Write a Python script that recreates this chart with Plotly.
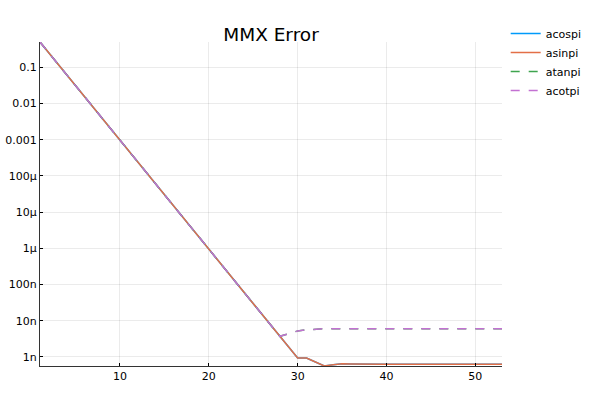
import plotly.graph_objects as go
import math

x_vals = list(range(1, 54))

# acospi / asinpi (solid)
err_sin = [0.5, 0.25, 0.125, 0.0625, 0.0313, 0.0156, 0.0078, 0.0039, 0.00195, 9.8e-4,
           4.9e-4, 2.44e-4, 1.22e-4, 6.1e-5, 3.05e-5, 1.53e-5, 7.6e-6, 3.8e-6, 1.9e-6, 9.5e-7,
           4.8e-7, 2.4e-7, 1.2e-7, 6.0e-8, 3.0e-8, 1.5e-8, 7.5e-9, 3.7e-9, 1.86e-9, 9.3e-10,
           9.3e-10, 7.4e-10, 5.6e-10, 6.1e-10, 6.5e-10, 6.4e-10, 6.3e-10, 6.3e-10, 6.3e-10, 6.3e-10,
           6.3e-10, 6.3e-10, 6.3e-10, 6.3e-10, 6.3e-10, 6.3e-10, 6.3e-10, 6.3e-10, 6.3e-10, 6.3e-10,
           6.3e-10, 6.3e-10, 6.3e-10]
acospi = err_sin
asinpi = err_sin

# atanpi / acotpi (dashed)
err_tan = [0.5, 0.25, 0.125, 0.0625, 0.0313, 0.0156, 0.0078, 0.0039, 0.00195, 9.8e-4,
           4.9e-4, 2.44e-4, 1.22e-4, 6.1e-5, 3.05e-5, 1.53e-5, 7.6e-6, 3.8e-6, 1.9e-6, 9.5e-7,
           4.8e-7, 2.4e-7, 1.2e-7, 6.0e-8, 3.0e-8, 1.5e-8, 7.5e-9, 3.7e-9, 4.4e-9, 5.2e-9,
           5.6e-9, 5.9e-9, 6.0e-9, 6.0e-9, 6.0e-9, 6.0e-9, 6.0e-9, 6.0e-9, 6.0e-9, 6.0e-9,
           6.0e-9, 6.0e-9, 6.0e-9, 6.0e-9, 6.0e-9, 6.0e-9, 6.0e-9, 6.0e-9, 6.0e-9, 6.0e-9,
           6.0e-9, 6.0e-9, 6.0e-9]
atanpi = err_tan
acotpi = err_tan

series_names = ["acospi", "asinpi", "atanpi", "acotpi"]
series_data = [acospi, asinpi, atanpi, acotpi]
colors = ["#009AFA", "#E36F47", "#3EA44E", "#C371D2"]
dashes = ["solid", "solid", "dash", "dash"]

y_tickvals = [1e-9, 1e-8, 1e-7, 1e-6, 1e-5, 1e-4, 1e-3, 1e-2, 1e-1]
y_ticktext = ["1n", "10n", "100n", "1μ", "10μ", "100μ", "0.001", "0.01", "0.1"]
x_tickvals = [10, 20, 30, 40, 50]

FONT = "DejaVu Sans"

fig = go.Figure()
for name, data, c, d in zip(series_names, series_data, colors, dashes):
    fig.add_trace(go.Scatter(x=x_vals, y=data, mode="lines", name=name,
                             line=dict(color=c, width=1.5, dash=d)))

all_y = [v for s in series_data for v in s]
ymin, ymax = min(all_y), max(all_y)

fig.update_layout(
    width=600, height=400,
    margin=dict(l=40, r=98, t=42, b=34, autoexpand=False),
    paper_bgcolor="white", plot_bgcolor="white",
    font=dict(family=FONT, size=11, color="black"),
    title=dict(text="MMX Error", x=(40 + 231) / 600, xanchor="center",
               y=1 - 35 / 400, yanchor="middle",
               font=dict(family=FONT, size=18.5, color="black")),
    legend=dict(x=1.008, y=1.071, xanchor="left", yanchor="top",
                bgcolor="rgba(0,0,0,0)", borderwidth=0,
                font=dict(family=FONT, size=11, color="black"),
                tracegroupgap=0),
    showlegend=True,
)
fig.update_xaxes(
    range=[min(x_vals), max(x_vals)], tickvals=x_tickvals, automargin=False,
    ticks="inside", ticklen=3, tickcolor="black", tickwidth=1,
    showline=True, linecolor="#333333", linewidth=1,
    showgrid=True, gridcolor="rgba(0,0,0,0.08)", gridwidth=1,
    zeroline=False, tickfont=dict(family=FONT, size=11, color="black"),
)
fig.update_yaxes(
    type="log", range=[math.log10(ymin), math.log10(ymax)], automargin=False,
    tickvals=y_tickvals, ticktext=y_ticktext,
    ticks="inside", ticklen=3, tickcolor="black", tickwidth=1,
    showline=True, linecolor="#333333", linewidth=1,
    showgrid=True, gridcolor="rgba(0,0,0,0.08)", gridwidth=1,
    zeroline=False, tickfont=dict(family=FONT, size=11, color="black"),
)

fig.write_html("out.html", config={"displayModeBar": False},
               post_script="document.body.style.margin='0px';")
